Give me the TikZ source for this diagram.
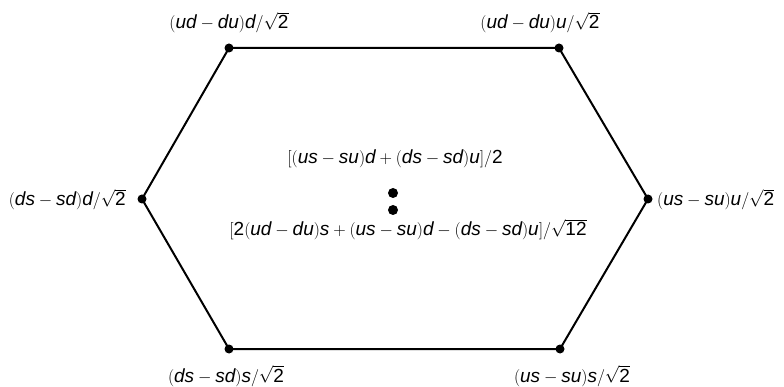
\documentclass[tikz,border=0pt]{standalone}
\usepackage{fontspec}
\setmainfont{Liberation Sans}
\setsansfont{Liberation Sans}
\newcommand{\vv}[1]{\mathit{#1}}
\newcommand{\nn}[1]{\mathrm{#1}}
\begin{document}
\begin{tikzpicture}[x=1pt,y=-1pt,
  lbl/.style={font=\fontsize{19}{22}\selectfont, inner sep=0pt, anchor=base},
  edge/.style={line width=2pt},
  vdot/.style={circle,fill=black,inner sep=0pt,minimum size=9pt}]
\useasboundingbox (0,0) rectangle (784,387);
\node[vdot] (tl) at (229,48) {};
\node[vdot] (tr) at (559,48) {};
\node[vdot] (r)  at (648,199) {};
\node[vdot] (br) at (560,349) {};
\node[vdot] (bl) at (229,349) {};
\node[vdot] (l)  at (142,199) {};
\node[vdot, minimum size=10pt] (c1) at (393,193) {};
\node[vdot, minimum size=10pt] (c2) at (393,210) {};
\draw[edge] (tl.center) -- (tr.center) -- (r.center) -- (br.center) -- (bl.center) -- (l.center) -- cycle;
\node[lbl] (ltl) at (229,29) {$(\vv{ud}-\vv{du})\vv{d}/\sqrt{\nn{2}}$};
\node[lbl] (ltr) at (540,29) {$(\vv{ud}-\vv{du})\vv{u}/\sqrt{\nn{2}}$};
\node[lbl, anchor=base east] (ll) at (126,206) {$(\vv{ds}-\vv{sd})\vv{d}/\sqrt{\nn{2}}$};
\node[lbl, anchor=base west] (lr) at (657,206) {$(\vv{us}-\vv{su})\vv{u}/\sqrt{\nn{2}}$};
\node[lbl] (lbl) at (226,382) {$(\vv{ds}-\vv{sd})\vv{s}/\sqrt{\nn{2}}$};
\node[lbl] (lbr) at (572,382) {$(\vv{us}-\vv{su})\vv{s}/\sqrt{\nn{2}}$};
\node[lbl] (lc1) at (395,164) {$[(\vv{us}-\vv{su})\vv{d}+(\vv{ds}-\vv{sd})\vv{u}]/\nn{2}$};
\node[lbl] (lc2) at (408,236) {$[\nn{2}(\vv{ud}-\vv{du})\vv{s}+(\vv{us}-\vv{su})\vv{d}-(\vv{ds}-\vv{sd})\vv{u}]/\sqrt{\nn{12}}$};
\end{tikzpicture}
\end{document}
